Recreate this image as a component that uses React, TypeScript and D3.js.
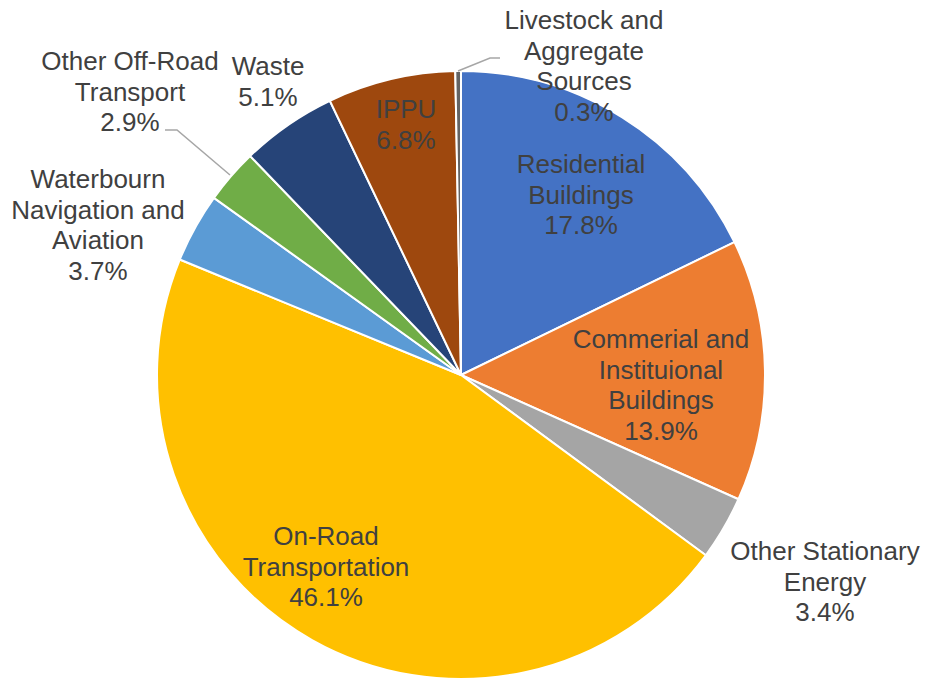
import React from "react";
import * as d3 from "d3";

const categories = [
  "Residential Buildings",
  "Commerial and Instituional Buildings",
  "Other Stationary Energy",
  "On-Road Transportation",
  "Waterbourn Navigation and Aviation",
  "Other Off-Road Transport",
  "Waste",
  "IPPU",
  "Livestock and Aggregate Sources",
];
const values = [17.8, 13.9, 3.4, 46.1, 3.7, 2.9, 5.1, 6.8, 0.3];
const colors = [
  "#4472C4",
  "#ED7D31",
  "#A5A5A5",
  "#FFC000",
  "#5B9BD5",
  "#70AD47",
  "#264478",
  "#9E480E",
  "#636363",
];
// label line breaks (text content)
const labelLines = [
  ["Residential", "Buildings"],
  ["Commerial and", "Instituional", "Buildings"],
  ["Other Stationary", "Energy"],
  ["On-Road", "Transportation"],
  ["Waterbourn", "Navigation and", "Aviation"],
  ["Other Off-Road", "Transport"],
  ["Waste"],
  ["IPPU"],
  ["Livestock and", "Aggregate", "Sources"],
];

// layout (positions of labels: center x, first baseline)
const labelLayout = [
  { x: 581, y: 173 },
  { x: 661, y: 348 },
  { x: 825, y: 560 },
  { x: 326, y: 545 },
  { x: 98, y: 188 },
  { x: 130, y: 70 },
  { x: 268, y: 75 },
  { x: 406, y: 118 },
  { x: 584, y: 29 },
];
const leaders: { [k: number]: [number, number][] } = {
  8: [
    [458, 71],
    [490, 58],
    [500, 58],
  ],
  5: [
    [230, 175],
    [177, 130],
    [165, 130],
  ],
};

const W = 930;
const H = 679;
const CX = 461;
const CY = 375;
const R = 304;
const LH = 30.6;

export default function App() {
  const pie = d3
    .pie<number>()
    .sort(null)
    .value((d) => d)
    .startAngle(0)
    .endAngle(2 * Math.PI);
  const arcs = pie(values);
  const arc = d3.arc<d3.PieArcDatum<number>>().innerRadius(0).outerRadius(R);
  const line = d3.line();

  return (
    <div style={{ position: "fixed", left: 0, top: 0 }}>
      <svg width={W} height={H} style={{ display: "block", background: "#fff" }}>
        <g transform={`translate(${CX},${CY})`}>
          {arcs.map((a, i) => (
            <path
              key={categories[i]}
              d={arc(a) || ""}
              fill={colors[i]}
              stroke="#fff"
              strokeWidth={2}
              strokeLinejoin="round"
            />
          ))}
        </g>
        {Object.entries(leaders).map(([k, pts]) => (
          <path
            key={"l" + k}
            d={line(pts) || ""}
            fill="none"
            stroke="#A6A6A6"
            strokeWidth={1.5}
          />
        ))}
        {categories.map((c, i) => {
          const lines = [...labelLines[i], `${values[i].toFixed(1)}%`];
          const p = labelLayout[i];
          return (
            <text
              key={"t" + c}
              x={p.x}
              y={p.y}
              textAnchor="middle"
              fontFamily="'Liberation Sans', Arial, sans-serif"
              fontSize={26}
              fill="#404040"
            >
              {lines.map((ln, j) => (
                <tspan key={j} x={p.x} y={p.y + j * LH}>
                  {ln}
                </tspan>
              ))}
            </text>
          );
        })}
      </svg>
    </div>
  );
}
